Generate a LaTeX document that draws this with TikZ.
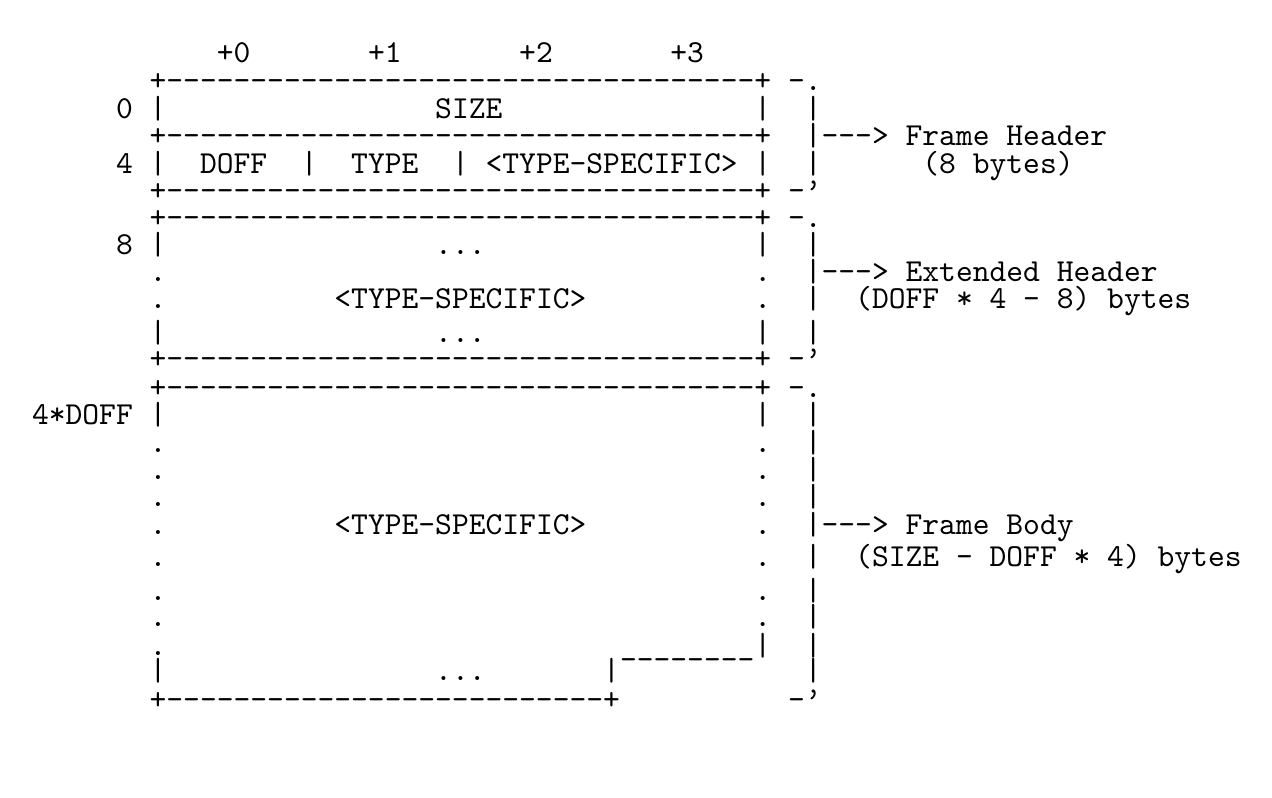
\documentclass[tikz,border=0pt]{standalone}
\usepackage{fontspec}
\newfontfamily\asciitt{lmmono10-regular.otf}
\newcommand\asciifont{\fontsize{24}{28}\selectfont\asciitt\frenchspacing}
\newcommand\hy{-\kern0pt}
\newcommand\hyv{\hy\hy\hy\hy\hy}
\newcommand\bordline{+\hyv\hyv\hyv\hyv\hyv\hyv\hyv+}
\newcommand\bordshort{+\hyv\hyv\hyv\hyv\hyv\hy+}
\newcommand\arr{|\hy\hy\hy>}
\newcommand\rquo{\textquoteright}
\newcommand\usv{\textunderscore\kern0pt\textunderscore\kern0pt\textunderscore\kern0pt\textunderscore\kern0pt}
\tikzset{ch/.style={anchor=base west, inner sep=0pt, outer sep=0pt, font=\asciifont}}
\newcommand\cell[4]{\node[ch] (#1) at ({15.2+16.8*(#2)},#3) {#4};}
\begin{document}
\begin{tikzpicture}[x=0.75pt,y=-0.75pt]
\useasboundingbox (0,0) rectangle (1272,798);
% line 0
\cell{c0a}{12}{63}{+0}
\cell{c0b}{21}{63}{+1}
\cell{c0c}{30}{63}{+2}
\cell{c0d}{39}{63}{+3}
% line 1
\cell{c1a}{8}{90.7}{\bordline}
\cell{c1b}{46}{90.7}{\hy.}
% line 2
\cell{c2a}{6}{118.3}{0}
\cell{c2b}{8}{118.3}{|}
\cell{c2c}{25}{118.3}{SIZE}
\cell{c2d}{44}{118.3}{|}
\cell{c2e}{47}{118.3}{|}
% line 3
\cell{c3a}{8}{145.7}{\bordline}
\cell{c3b}{47}{145.7}{\arr\ Frame Header}
% line 4
\cell{c4a}{6}{173.3}{4}
\cell{c4b}{8}{173.3}{|}
\cell{c4c}{11}{173.3}{DOFF}
\cell{c4d}{17}{173.3}{|}
\cell{c4e}{20}{173.3}{TYPE}
\cell{c4f}{26}{173.3}{|}
\cell{c4g}{28}{173.3}{<TYPE-SPECIFIC>}
\cell{c4h}{44}{173.3}{|}
\cell{c4i}{47}{173.3}{|}
\cell{c4j}{54}{173.3}{(8 bytes)}
% line 5
\cell{c5a}{8}{200.7}{\bordline}
\cell{c5b}{46}{200.7}{\hy\rquo}
% line 6
\cell{c6a}{8}{227.3}{\bordline}
\cell{c6b}{46}{227.3}{\hy.}
% line 7
\cell{c7a}{6}{255}{8}
\cell{c7b}{8}{255}{|}
\cell{c7c}{25}{255}{.\kern0pt.\kern0pt.}
\cell{c7d}{44}{255}{|}
\cell{c7e}{47}{255}{|}
% line 8
\cell{c8a}{8}{281.3}{.}
\cell{c8b}{44}{281.3}{.}
\cell{c8c}{47}{281.3}{\arr\ Extended Header}
% line 9
\cell{c9a}{8}{308.7}{.}
\cell{c9b}{19}{308.7}{<TYPE-SPECIFIC>}
\cell{c9c}{44}{308.7}{.}
\cell{c9d}{47}{308.7}{|}
\cell{c9e}{50}{308.7}{(DOFF * 4 - 8) bytes}
% line 10
\cell{c10a}{8}{342.5}{|}
\cell{c10b}{25}{342.5}{.\kern0pt.\kern0pt.}
\cell{c10c}{44}{342.5}{|}
\cell{c10d}{47}{342.5}{|}
% line 11
\cell{c11a}{8}{369}{\bordline}
\cell{c11b}{46}{369}{\hy\rquo}
% line 12
\cell{c12a}{8}{397.3}{\bordline}
\cell{c12b}{46}{397.3}{\hy.}
% line 13
\cell{c13a}{1}{425}{4*DOFF}
\cell{c13b}{8}{425}{|}
\cell{c13c}{44}{425}{|}
\cell{c13d}{47}{425}{|}
% lines 14-16
\cell{c14a}{8}{453}{.}
\cell{c14b}{44}{453}{.}
\cell{c14c}{47}{453}{|}
\cell{c15a}{8}{480}{.}
\cell{c15b}{44}{480}{.}
\cell{c15c}{47}{480}{|}
\cell{c16a}{8}{507}{.}
\cell{c16b}{44}{507}{.}
\cell{c16c}{47}{507}{|}
% line 17
\cell{c17a}{8}{535}{.}
\cell{c17b}{19}{535}{<TYPE-SPECIFIC>}
\cell{c17c}{44}{535}{.}
\cell{c17d}{47}{535}{\arr\ Frame Body}
% line 18
\cell{c18a}{8}{566}{.}
\cell{c18b}{44}{566}{.}
\cell{c18c}{47}{566}{|}
\cell{c18d}{50}{566}{(SIZE - DOFF * 4) bytes}
% lines 19-20
\cell{c19a}{8}{600}{.}
\cell{c19b}{44}{600}{.}
\cell{c19c}{47}{600}{|}
\cell{c20a}{8}{627}{.}
\cell{c20b}{44}{627}{.}
\cell{c20c}{47}{627}{|}
% line 21
\cell{c21a}{8}{655}{.}
\cell{c21b}{36}{655}{\usv\usv|}
\cell{c21c}{47}{655}{|}
% line 22
\cell{c22a}{8}{681}{|}
\cell{c22b}{25}{681}{.\kern0pt.\kern0pt.}
\cell{c22c}{35}{681}{|}
\cell{c22d}{47}{681}{|}
% line 23
\cell{c23a}{8}{709}{\bordshort}
\cell{c23b}{46}{709}{\hy\rquo}
\end{tikzpicture}
\end{document}
